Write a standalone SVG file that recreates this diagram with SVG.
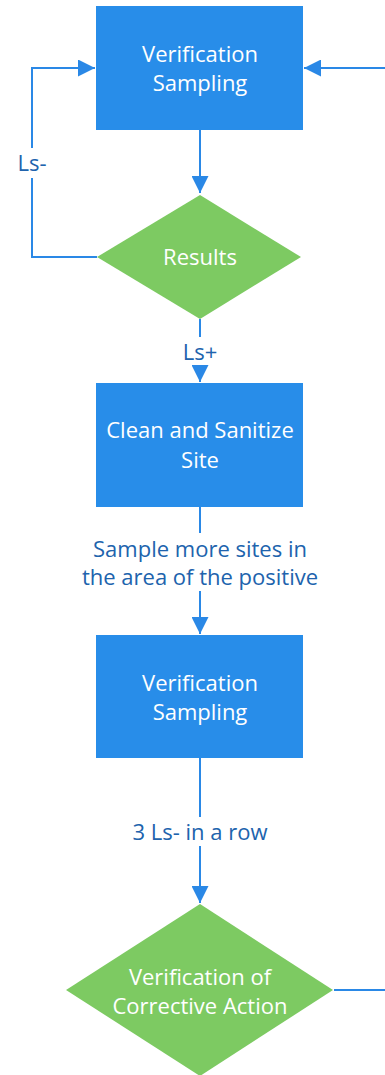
<svg xmlns="http://www.w3.org/2000/svg" width="385" height="1075" viewBox="0 0 385 1075">
  <defs>
    <marker id="arrow" viewBox="0 0 10 10" refX="10" refY="5" markerWidth="17" markerHeight="17" markerUnits="userSpaceOnUse" orient="auto">
      <path d="M0,0 L10,5 L0,10 z" fill="#2a88e6"/>
    </marker>
    <style>
      .box { fill: #288de9; }
      .dec { fill: #7dca62; }
      .ntext { font-family: "Open Sans", "Noto Sans", sans-serif; font-size: 22px; fill: #ffffff; text-anchor: middle; }
      .ltext { font-family: "Open Sans", "Noto Sans", sans-serif; font-size: 22px; fill: #2063ad; text-anchor: middle; }
      .conn { fill: none; stroke: #2a88e6; stroke-width: 2; }
    </style>
  </defs>

  <g id="connectors">
    <!-- Sampling to Results -->
    <path class="conn" d="M200,130 V193" marker-end="url(#arrow)"/>
    <!-- Ls- loop back to Sampling -->
    <path class="conn" d="M97,257 H32 V178"/>
    <path class="conn" d="M32,148 V68 H95" marker-end="url(#arrow)"/>
    <text class="ltext" x="32" y="171">Ls-</text>
    <!-- incoming from the right -->
    <path class="conn" d="M385,68 H304" marker-end="url(#arrow)"/>
    <!-- Results to Clean -->
    <path class="conn" d="M200,319 V337"/>
    <text class="ltext" x="200" y="360">Ls+</text>
    <path class="conn" d="M200,366 V382" marker-end="url(#arrow)"/>
    <!-- Clean to second Sampling -->
    <path class="conn" d="M200,507 V533"/>
    <text class="ltext" x="200" y="557">Sample more sites in</text>
    <text class="ltext" x="200" y="585">the area of the positive</text>
    <path class="conn" d="M200,591 V634" marker-end="url(#arrow)"/>
    <!-- second Sampling to Verification of Corrective Action -->
    <path class="conn" d="M200,758 V817"/>
    <text class="ltext" x="200" y="840">3 Ls- in a row</text>
    <path class="conn" d="M200,846 V903" marker-end="url(#arrow)"/>
    <!-- outgoing to the right -->
    <path class="conn" d="M334,990 H385"/>
  </g>

  <g id="sampling1">
    <rect class="box" x="96" y="6" width="207" height="124"/>
    <text class="ntext" x="200" y="62">Verification</text>
    <text class="ntext" x="200" y="91">Sampling</text>
  </g>

  <g id="results">
    <polygon class="dec" points="200,195 301,257 200,319 97,257"/>
    <text class="ntext" x="200" y="265">Results</text>
  </g>

  <g id="clean">
    <rect class="box" x="96" y="383" width="207" height="124"/>
    <text class="ntext" x="200" y="438">Clean and Sanitize</text>
    <text class="ntext" x="200" y="468">Site</text>
  </g>

  <g id="sampling2">
    <rect class="box" x="96" y="635" width="207" height="123"/>
    <text class="ntext" x="200" y="691">Verification</text>
    <text class="ntext" x="200" y="720">Sampling</text>
  </g>

  <g id="corrective">
    <polygon class="dec" points="200,904 333,990 200,1076 66,990"/>
    <text class="ntext" x="200" y="985">Verification of</text>
    <text class="ntext" x="200" y="1014">Corrective Action</text>
  </g>
</svg>
